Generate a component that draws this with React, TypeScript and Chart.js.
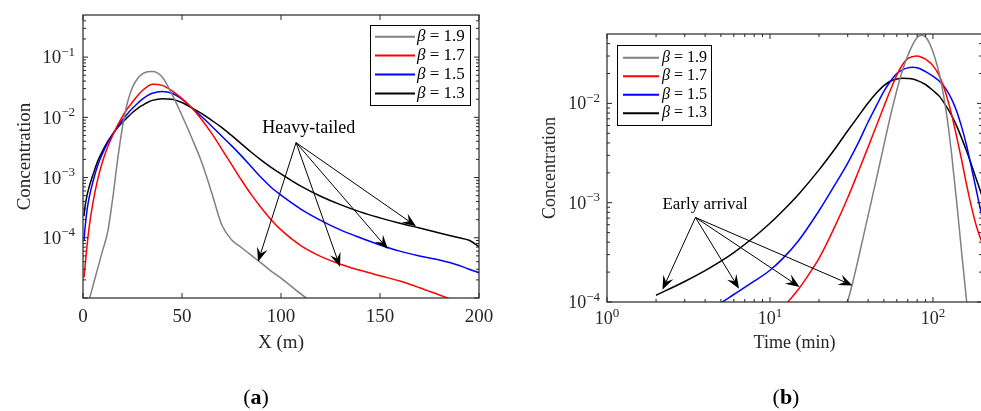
import React, { useEffect, useRef } from "react";
import { Chart, registerables } from "chart.js";

Chart.register(...registerables);

const FONT = '"Liberation Serif", "Times New Roman", serif';
const AXIS_COLOR = "#262626";

// ---------- shared series info ----------
const seriesLabels = ["β = 1.9", "β = 1.7", "β = 1.5", "β = 1.3"];
const seriesColors = ["#808080", "#ff0000", "#0000ff", "#000000"];

// ---------- panel (a): concentration vs distance ----------
const distanceX = [0.5, 1, 2, 3, 5, 7.5, 10, 12.5, 15, 17.5, 20, 22.5, 25, 27.5, 30, 32.5, 35, 40, 45, 50, 55, 60, 65, 70, 75, 80, 85, 90, 95, 100, 110, 120, 130, 140, 150, 160, 170, 180, 190, 195, 200];
const concA19 = [3.2e-6, 4e-6, 6.3e-6, 8.9e-6, 1.58e-5, 3.16e-5, 6.3e-5, 1.26e-4, 4.47e-4, 2e-3, 7.08e-3, 1.78e-2, 3.16e-2, 4.37e-2, 5.25e-2, 5.69e-2, 5.79e-2, 4.68e-2, 2.4e-2, 1.07e-2, 4.5e-3, 1.78e-3, 5.6e-4, 1.66e-4, 9.3e-5, 6.9e-5, 5.1e-5, 3.8e-5, 2.8e-5, 2.14e-5, 1.17e-5, 6.8e-6, 4e-6, 2.5e-6, 1.6e-6, 1e-6, 6.3e-7, 4e-7, 2.5e-7, 2e-7, 1.6e-7];
const concA17 = [2.19e-5, 3.24e-5, 7.1e-5, 1.41e-4, 3.8e-4, 9.5e-4, 1.9e-3, 3.24e-3, 5e-3, 7.4e-3, 1.05e-2, 1.4e-2, 1.8e-2, 2.29e-2, 2.79e-2, 3.24e-2, 3.55e-2, 3.39e-2, 2.75e-2, 2.04e-2, 1.43e-2, 9.1e-3, 5.4e-3, 3e-3, 1.66e-3, 9.1e-4, 5.2e-4, 3.16e-4, 2e-4, 1.35e-4, 7.4e-5, 4.9e-5, 3.63e-5, 2.88e-5, 2.34e-5, 1.91e-5, 1.48e-5, 1.12e-5, 8.5e-6, 7.4e-6, 6.5e-6];
const concA15 = [8.9e-5, 1.41e-4, 2.82e-4, 4.47e-4, 8.5e-4, 1.62e-3, 2.57e-3, 3.8e-3, 5.25e-3, 7e-3, 9.1e-3, 1.15e-2, 1.41e-2, 1.7e-2, 2e-2, 2.29e-2, 2.51e-2, 2.69e-2, 2.51e-2, 2e-2, 1.43e-2, 1.02e-2, 7.1e-3, 4.9e-3, 3.39e-3, 2.29e-3, 1.51e-3, 1e-3, 6.9e-4, 5.1e-4, 3e-4, 1.95e-4, 1.35e-4, 1e-4, 7.6e-5, 6e-5, 5e-5, 4.27e-5, 3.47e-5, 3e-5, 2.63e-5];
const concA13 = [2.29e-4, 3.24e-4, 5e-4, 6.8e-4, 1.1e-3, 1.9e-3, 2.82e-3, 3.98e-3, 5.25e-3, 6.8e-3, 8.3e-3, 1e-2, 1.2e-2, 1.4e-2, 1.58e-2, 1.76e-2, 1.91e-2, 2.04e-2, 2e-2, 1.76e-2, 1.43e-2, 1.15e-2, 8.9e-3, 6.8e-3, 5e-3, 3.63e-3, 2.63e-3, 1.95e-3, 1.48e-3, 1.15e-3, 7.2e-4, 4.9e-4, 3.55e-4, 2.69e-4, 2.14e-4, 1.74e-4, 1.45e-4, 1.2e-4, 1e-4, 9.1e-5, 7.1e-5];
const aXRange = [0, 200];
const aYRange = [1e-5, 0.5];
const aXTicks = [0, 50, 100, 150, 200];
const aYTickExps = [-4, -3, -2, -1];
const aXTitle = "X (m)";
const aYTitle = "Concentration";
const aNoteText = "Heavy-tailed";
const aNoteAt = [114, 6.5e-3];
const aNoteFrom = [107.6, 3.8e-3];
const aNoteTipsX = [88.4, 129.8, 154, 168.2];
const aNoteTipsY = [4.0e-5, 3.3e-5, 6.5e-5, 1.56e-4];

// ---------- panel (b): concentration vs time ----------
const timeB19 = [25, 28, 30, 32, 35, 40, 45, 50, 55, 60, 65, 70, 75, 80, 85, 90, 95, 100, 105, 110, 115, 120, 125, 130, 140, 150, 160, 170];
const concB19 = [3.5e-5, 6.8e-5, 1.02e-4, 1.51e-4, 2.82e-4, 7.4e-4, 1.74e-3, 3.8e-3, 7.6e-3, 1.35e-2, 2.14e-2, 3.02e-2, 3.89e-2, 4.62e-2, 4.86e-2, 4.68e-2, 4.07e-2, 3.31e-2, 2.57e-2, 1.91e-2, 1.32e-2, 8.7e-3, 5.4e-3, 3.16e-3, 1e-3, 3.16e-4, 1.12e-4, 4e-5];
const timeB17 = [10, 12, 13, 15, 18, 20, 25, 30, 35, 40, 45, 50, 55, 60, 65, 70, 75, 80, 85, 90, 100, 110, 120, 130, 140, 150, 160, 170, 180, 190, 200];
const concB17 = [6e-5, 8.7e-5, 1.02e-4, 1.35e-4, 2.09e-4, 2.75e-4, 5.75e-4, 1.12e-3, 2.09e-3, 3.63e-3, 5.96e-3, 9.3e-3, 1.38e-2, 1.93e-2, 2.45e-2, 2.82e-2, 2.96e-2, 3e-2, 2.92e-2, 2.79e-2, 2.4e-2, 1.86e-2, 1.26e-2, 7.8e-3, 4.57e-3, 2.69e-3, 1.58e-3, 1e-3, 6.8e-4, 5e-4, 4e-4];
const timeB15 = [4, 5, 6, 8, 10, 12, 15, 20, 25, 30, 35, 40, 45, 50, 55, 60, 65, 70, 75, 80, 90, 100, 110, 120, 130, 140, 150, 160, 170, 180, 190, 200];
const concB15 = [7.6e-5, 9.8e-5, 1.19e-4, 1.62e-4, 2.09e-4, 2.75e-4, 4.17e-4, 8.3e-4, 1.51e-3, 2.51e-3, 4.07e-3, 6.5e-3, 9.5e-3, 1.32e-2, 1.68e-2, 2e-2, 2.18e-2, 2.28e-2, 2.31e-2, 2.29e-2, 2.09e-2, 1.88e-2, 1.66e-2, 1.4e-2, 1.11e-2, 8.3e-3, 5.8e-3, 3.9e-3, 2.51e-3, 1.62e-3, 1.07e-3, 7.2e-4];
const timeB13 = [2, 3, 4, 5, 6, 8, 10, 12, 15, 20, 25, 30, 35, 40, 45, 50, 55, 60, 65, 70, 75, 80, 90, 100, 110, 120, 130, 140, 150, 160, 170, 180, 190, 200];
const concB13 = [1.17e-4, 1.61e-4, 2.07e-4, 2.58e-4, 3.15e-4, 4.51e-4, 6.2e-4, 8.3e-4, 1.22e-3, 2.14e-3, 3.47e-3, 5.3e-3, 7.5e-3, 1.01e-2, 1.27e-2, 1.51e-2, 1.68e-2, 1.76e-2, 1.79e-2, 1.78e-2, 1.76e-2, 1.7e-2, 1.55e-2, 1.35e-2, 1.17e-2, 9.5e-3, 7.6e-3, 5.9e-3, 4.47e-3, 3.39e-3, 2.57e-3, 1.95e-3, 1.51e-3, 1.17e-3];
const bXRange = [1, 200];
const bYRange = [1e-4, 0.05];
const bXTickExps = [0, 1, 2];
const bYTickExps = [-4, -3, -2];
const bXTitle = "Time (min)";
const bYTitle = "Concentration";
const bNoteText = "Early arrival";
const bNoteAt = [4.0, 9.5e-4];
const bNoteFrom = [3.49, 7.1e-4];
const bNoteTipsX = [2.19, 6.46, 15.2, 32.1];
const bNoteTipsY = [1.33e-4, 1.36e-4, 1.42e-4, 1.47e-4];

const toPoints = (xs: number[], ys: number[]) => xs.map((x, i) => ({ x, y: ys[i] }));
const supMinus = (e: number) => (e < 0 ? "\u2212" + Math.abs(e) : String(e));

function logMinors(min: number, max: number) {
  const out: number[] = [];
  for (let e = Math.floor(Math.log10(min)); e <= Math.ceil(Math.log10(max)); e++) {
    for (let m = 2; m <= 9; m++) {
      const v = m * Math.pow(10, e);
      if (v > min * 1.0001 && v < max * 0.9999) out.push(v);
    }
  }
  return out;
}
function logMajors(min: number, max: number) {
  const out: number[] = [];
  for (let e = Math.ceil(Math.log10(min) - 1e-9); e <= Math.floor(Math.log10(max) + 1e-9); e++) out.push(Math.pow(10, e));
  return out;
}

function drawPow(ctx: CanvasRenderingContext2D, exp: string, x: number, yc: number, size: number, align: "right" | "center") {
  const sup = Math.round(size * 0.7);
  ctx.font = `${size}px ${FONT}`;
  const wb = ctx.measureText("10").width;
  ctx.font = `${sup}px ${FONT}`;
  const we = ctx.measureText(exp).width;
  const x0 = align === "right" ? x - wb - we : x - (wb + we) / 2;
  const base = yc + size * 0.33;
  ctx.textAlign = "left";
  ctx.textBaseline = "alphabetic";
  ctx.font = `${size}px ${FONT}`;
  ctx.fillText("10", x0, base);
  ctx.font = `${sup}px ${FONT}`;
  ctx.fillText(exp, x0 + wb, base - size * 0.4);
}

function drawArrow(ctx: CanvasRenderingContext2D, x0: number, y0: number, x1: number, y1: number) {
  const dx = x1 - x0, dy = y1 - y0;
  const L = Math.hypot(dx, dy);
  const ux = dx / L, uy = dy / L, nx = -uy, ny = ux;
  const len = 14, half = 5.5, notch = 0.62;
  ctx.beginPath();
  ctx.moveTo(x0, y0);
  ctx.lineTo(x1 - ux * len * notch, y1 - uy * len * notch);
  ctx.stroke();
  ctx.beginPath();
  ctx.moveTo(x1, y1);
  ctx.lineTo(x1 - ux * len + nx * half, y1 - uy * len + ny * half);
  ctx.lineTo(x1 - ux * len * notch, y1 - uy * len * notch);
  ctx.lineTo(x1 - ux * len - nx * half, y1 - uy * len - ny * half);
  ctx.closePath();
  ctx.fill();
}

type Decor = {
  xMajor: number[];
  xMinor: number[];
  xLabels: { v: number; text?: string; exp?: string }[];
  yMajor: number[];
  yMinor: number[];
  yLabels: { v: number; exp: string }[];
  tickFont: number;
  xLabelY: number;
  yLabelGap: number;
  xTitle: string;
  yTitle: string;
  titleFont: number;
  xTitleY: number;
  yTitleX: number;
  legend: { left?: number; right?: number; top: number; w: number; h: number; row0: number; rowH: number; l0: number; l1: number; t0: number; font: number };
  note: { text: string; font: number; at: number[]; from: number[]; tx: number[]; ty: number[] };
  caption: { letter: string; x: number; y: number };
};

function decorPlugin(d: Decor) {
  return {
    id: "decor",
    afterDraw(chart: any) {
      const { ctx, chartArea: a, scales } = chart;
      const sx = scales.x, sy = scales.y;
      ctx.save();

      // annotation
      ctx.strokeStyle = "#000";
      ctx.fillStyle = "#000";
      ctx.lineWidth = 1;
      const ox = sx.getPixelForValue(d.note.from[0]);
      const oy = sy.getPixelForValue(d.note.from[1]);
      d.note.tx.forEach((tx, i) => {
        drawArrow(ctx, ox, oy, sx.getPixelForValue(tx), sy.getPixelForValue(d.note.ty[i]));
      });
      ctx.font = `${d.note.font}px ${FONT}`;
      ctx.textAlign = "center";
      ctx.textBaseline = "middle";
      ctx.fillText(d.note.text, sx.getPixelForValue(d.note.at[0]), sy.getPixelForValue(d.note.at[1]));

      // box
      ctx.strokeStyle = AXIS_COLOR;
      ctx.lineWidth = 1.2;
      ctx.strokeRect(a.left, a.top, a.right - a.left, a.bottom - a.top);

      // ticks (inward, on all four sides)
      const xt = (v: number, len: number) => {
        const p = sx.getPixelForValue(v);
        ctx.beginPath();
        ctx.moveTo(p, a.bottom); ctx.lineTo(p, a.bottom - len);
        ctx.moveTo(p, a.top); ctx.lineTo(p, a.top + len);
        ctx.stroke();
      };
      const yt = (v: number, len: number) => {
        const p = sy.getPixelForValue(v);
        ctx.beginPath();
        ctx.moveTo(a.left, p); ctx.lineTo(a.left + len, p);
        ctx.moveTo(a.right, p); ctx.lineTo(a.right - len, p);
        ctx.stroke();
      };
      ctx.lineWidth = 1;
      d.xMajor.forEach((v) => xt(v, 5));
      d.xMinor.forEach((v) => xt(v, 3));
      d.yMajor.forEach((v) => yt(v, 5));
      d.yMinor.forEach((v) => yt(v, 3));

      // tick labels
      ctx.fillStyle = AXIS_COLOR;
      d.xLabels.forEach((l) => {
        const p = sx.getPixelForValue(l.v);
        if (l.exp !== undefined) {
          drawPow(ctx, l.exp, p, d.xLabelY, d.tickFont, "center");
        } else {
          ctx.font = `${d.tickFont}px ${FONT}`;
          ctx.textAlign = "center";
          ctx.textBaseline = "alphabetic";
          ctx.fillText(l.text || "", p, d.xLabelY + d.tickFont * 0.33);
        }
      });
      d.yLabels.forEach((l) => {
        drawPow(ctx, l.exp, a.left - d.yLabelGap, sy.getPixelForValue(l.v), d.tickFont, "right");
      });

      // axis titles
      ctx.font = `${d.titleFont}px ${FONT}`;
      ctx.textAlign = "center";
      ctx.textBaseline = "middle";
      ctx.fillText(d.xTitle, (a.left + a.right) / 2, d.xTitleY);
      ctx.save();
      ctx.translate(d.yTitleX, (a.top + a.bottom) / 2);
      ctx.rotate(-Math.PI / 2);
      ctx.fillText(d.yTitle, 0, 0);
      ctx.restore();

      // legend
      const lg = d.legend;
      const bx = lg.left !== undefined ? a.left + lg.left : a.right - (lg.right || 0) - lg.w;
      const by = a.top + lg.top;
      ctx.fillStyle = "#fff";
      ctx.fillRect(bx, by, lg.w, lg.h);
      ctx.strokeStyle = "#000";
      ctx.lineWidth = 1;
      ctx.strokeRect(Math.round(bx) + 0.5, Math.round(by) + 0.5, lg.w, lg.h);
      chart.data.datasets.forEach((ds: any, i: number) => {
        const ry = by + lg.row0 + i * lg.rowH;
        ctx.strokeStyle = ds.borderColor;
        ctx.lineWidth = 2;
        ctx.beginPath();
        ctx.moveTo(bx + lg.l0, ry);
        ctx.lineTo(bx + lg.l1, ry);
        ctx.stroke();
        const label: string = ds.label;
        ctx.fillStyle = "#000";
        ctx.textAlign = "left";
        ctx.textBaseline = "middle";
        ctx.font = `italic ${lg.font}px ${FONT}`;
        const g = label.charAt(0);
        ctx.fillText(g, bx + lg.t0, ry);
        const gw = ctx.measureText(g).width;
        ctx.font = `${lg.font}px ${FONT}`;
        ctx.fillText(label.slice(1), bx + lg.t0 + gw, ry);
      });

      // caption
      const c = d.caption;
      ctx.fillStyle = "#000";
      ctx.textBaseline = "middle";
      ctx.textAlign = "left";
      ctx.font = `22px ${FONT}`;
      const pw = ctx.measureText("(").width;
      const qw = ctx.measureText(")").width;
      ctx.font = `bold 22px ${FONT}`;
      const lw = ctx.measureText(c.letter).width;
      let cx = c.x - (pw + lw + qw) / 2;
      ctx.font = `22px ${FONT}`;
      ctx.fillText("(", cx, c.y);
      cx += pw;
      ctx.font = `bold 22px ${FONT}`;
      ctx.fillText(c.letter, cx, c.y);
      cx += lw;
      ctx.font = `22px ${FONT}`;
      ctx.fillText(")", cx, c.y);

      ctx.restore();
    },
  };
}

function makeDatasets(sets: { x: number[]; y: number[] }[]) {
  return sets.map((s, i) => ({
    label: seriesLabels[i],
    data: toPoints(s.x, s.y),
    borderColor: seriesColors[i],
    backgroundColor: seriesColors[i],
    borderWidth: 1.5,
    pointRadius: 0,
    fill: false,
    cubicInterpolationMode: "monotone" as const,
  }));
}

export default function App() {
  const refA = useRef<HTMLCanvasElement>(null);
  const refB = useRef<HTMLCanvasElement>(null);

  useEffect(() => {
    const common = (padding: any, xType: string, xr: number[], yr: number[]) => ({
      animation: false as const,
      responsive: false,
      maintainAspectRatio: false,
      events: [] as any[],
      layout: { padding },
      plugins: { legend: { display: false }, tooltip: { enabled: false } },
      scales: {
        x: { type: xType, min: xr[0], max: xr[1], display: false },
        y: { type: "logarithmic", min: yr[0], max: yr[1], display: false },
      },
    });

    const decorA: Decor = {
      xMajor: aXTicks,
      xMinor: [],
      xLabels: aXTicks.map((v) => ({ v, text: String(v) })),
      yMajor: logMajors(aYRange[0], aYRange[1]),
      yMinor: logMinors(aYRange[0], aYRange[1]),
      yLabels: aYTickExps.map((e) => ({ v: Math.pow(10, e), exp: supMinus(e) })),
      tickFont: 19,
      xLabelY: 316,
      yLabelGap: 8,
      xTitle: aXTitle,
      yTitle: aYTitle,
      titleFont: 19,
      xTitleY: 343,
      yTitleX: 25,
      legend: { right: 9, top: 10, w: 100, h: 80, row0: 11.7, rowH: 18.9, l0: 5, l1: 45, t0: 47, font: 17 },
      note: { text: aNoteText, font: 18, at: aNoteAt, from: aNoteFrom, tx: aNoteTipsX, ty: aNoteTipsY },
      caption: { letter: "a", x: 256, y: 398 },
    };
    const decorB: Decor = {
      xMajor: logMajors(bXRange[0], bXRange[1]),
      xMinor: logMinors(bXRange[0], bXRange[1]),
      xLabels: bXTickExps.map((e) => ({ v: Math.pow(10, e), exp: supMinus(e) })),
      yMajor: logMajors(bYRange[0], bYRange[1]),
      yMinor: logMinors(bYRange[0], bYRange[1]),
      yLabels: bYTickExps.map((e) => ({ v: Math.pow(10, e), exp: supMinus(e) })),
      tickFont: 18,
      xLabelY: 318,
      yLabelGap: 7,
      xTitle: bXTitle,
      yTitle: bYTitle,
      titleFont: 18,
      xTitleY: 343,
      yTitleX: 50.5,
      legend: { left: 10, top: 11, w: 94, h: 80, row0: 12.7, rowH: 18.5, l0: 6, l1: 42, t0: 45, font: 16 },
      note: { text: bNoteText, font: 17, at: bNoteAt, from: bNoteFrom, tx: bNoteTipsX, ty: bNoteTipsY },
      caption: { letter: "b", x: 286, y: 398 },
    };

    const chartA = new Chart(refA.current as HTMLCanvasElement, {
      type: "line",
      data: {
        datasets: makeDatasets([
          { x: distanceX, y: concA19 },
          { x: distanceX, y: concA17 },
          { x: distanceX, y: concA15 },
          { x: distanceX, y: concA13 },
        ]),
      },
      options: common({ left: 83, top: 15, right: 21, bottom: 113 }, "linear", aXRange, aYRange) as any,
      plugins: [decorPlugin(decorA)],
    });
    const chartB = new Chart(refB.current as HTMLCanvasElement, {
      type: "line",
      data: {
        datasets: makeDatasets([
          { x: timeB19, y: concB19 },
          { x: timeB17, y: concB17 },
          { x: timeB15, y: concB15 },
          { x: timeB13, y: concB13 },
        ]),
      },
      options: common({ left: 107, top: 34, right: 8, bottom: 109 }, "logarithmic", bXRange, bYRange) as any,
      plugins: [decorPlugin(decorB)],
    });
    return () => {
      chartA.destroy();
      chartB.destroy();
    };
  }, []);

  return (
    <div style={{ position: "absolute", left: 0, top: 0, width: 981, height: 411, overflow: "hidden", background: "#fff" }}>
      <canvas ref={refA} width={500} height={411} style={{ position: "absolute", left: 0, top: 0, width: 500, height: 411 }} />
      <canvas ref={refB} width={490} height={411} style={{ position: "absolute", left: 500, top: 0, width: 490, height: 411 }} />
    </div>
  );
}
